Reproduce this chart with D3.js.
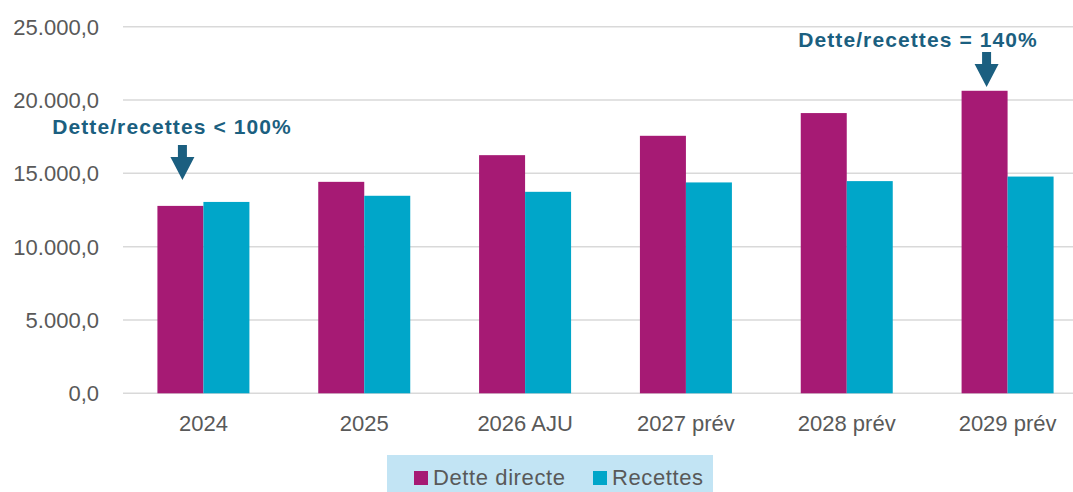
<!DOCTYPE html>
<html lang="fr">
<head>
  <meta charset="UTF-8">
  <style>
    body {
      margin: 0;
      overflow: hidden;
      background: #fff;
    }

    svg {
      display: block;
      font-family: "Liberation Sans", Arial, sans-serif;
    }

    .grid line {
      stroke: #d9d9d9;
      stroke-width: 1.5;
    }

    .tick-label {
      fill: #595959;
      font-size: 22px;
    }

    .legend-label {
      fill: #595959;
      font-size: 22px;
      letter-spacing: 0.6px;
    }

    .note {
      fill: #1b5f80;
      font-size: 21px;
      font-weight: bold;
      letter-spacing: 1.1px;
    }
  </style>
  <script src="https://d3js.org/d3.v7.min.js"></script>
</head>
<body>

<svg id="chart"></svg>

<script>
  // data
  const categories = ["2024", "2025", "2026 AJU", "2027 prév", "2028 prév", "2029 prév"];
  const series = ["Dette directe", "Recettes"];
  const detteDirecte = [12780, 14420, 16240, 17560, 19110, 20630];
  const recettes = [13050, 13470, 13740, 14380, 14470, 14780];
  const yTicks = [0, 5000, 10000, 15000, 20000, 25000];
  const colors = ["#a61a74", "#00a6c9"];

  const width = 1073, height = 492;
  const svg = d3.select("#chart")
    .attr("width", width)
    .attr("height", height);

  const x0 = d3.scaleBand()
    .domain(categories)
    .range([123, 1088])
    .paddingInner(0.428)
    .paddingOuter(0.214);

  const x1 = d3.scaleBand()
    .domain(series)
    .range([0, x0.bandwidth()]);

  const y = d3.scaleLinear()
    .domain([0, 25000])
    .range([393.3, 26.7]);

  const fmt = v => d3.format(",.1f")(v).replace(/,/g, " ").replace(".", ",").replace(/ /g, ".");

  // gridlines
  svg.append("g")
    .attr("class", "grid")
    .selectAll("line")
    .data(yTicks)
    .join("line")
    .attr("x1", 123)
    .attr("x2", width)
    .attr("y1", d => y(d))
    .attr("y2", d => y(d));

  // y labels
  svg.append("g")
    .selectAll("text")
    .data(yTicks)
    .join("text")
    .attr("class", "tick-label")
    .attr("x", 99)
    .attr("y", d => y(d))
    .attr("dy", "0.36em")
    .attr("text-anchor", "end")
    .text(fmt);

  // bars
  const rows = categories.map((c, i) => ({ cat: c, values: [detteDirecte[i], recettes[i]] }));

  svg.append("g")
    .selectAll("g")
    .data(rows)
    .join("g")
    .attr("transform", d => `translate(${x0(d.cat)},0)`)
    .selectAll("rect")
    .data(d => d.values.map((v, j) => ({ key: series[j], v, j })))
    .join("rect")
    .attr("x", d => x1(d.key))
    .attr("y", d => y(d.v))
    .attr("width", x1.bandwidth())
    .attr("height", d => y(0) - y(d.v))
    .attr("fill", d => colors[d.j]);

  // x labels
  svg.append("g")
    .selectAll("text")
    .data(categories)
    .join("text")
    .attr("class", "tick-label")
    .attr("x", d => x0(d) + x0.bandwidth() / 2)
    .attr("y", 431)
    .attr("text-anchor", "middle")
    .text(d => d);

  // annotations with down arrows
  const notes = [
    { cat: "2024", text: "Dette/recettes < 100%", tx: 172, ty: 134, top: 145, tip: 180 },
    { cat: "2029 prév", text: "Dette/recettes = 140%", tx: 918, ty: 47, top: 52, tip: 87 }
  ];

  notes.forEach(n => {
    svg.append("text")
      .attr("class", "note")
      .attr("x", n.tx)
      .attr("y", n.ty)
      .attr("text-anchor", "middle")
      .text(n.text);

    const cx = x0(n.cat) + x1("Dette directe") + x1.bandwidth() / 2 + 2;
    const headY = n.tip - 23;
    svg.append("path")
      .attr("fill", "#1b5f80")
      .attr("d", `M${cx - 4.5},${n.top} L${cx + 4.5},${n.top} L${cx + 4.5},${headY}
        L${cx + 12},${headY} L${cx},${n.tip} L${cx - 12},${headY} L${cx - 4.5},${headY} Z`);
  });

  // legend
  const legend = svg.append("g");
  legend.append("rect")
    .attr("x", 387)
    .attr("y", 455)
    .attr("width", 326)
    .attr("height", 37)
    .attr("fill", "#c2e4f4");

  const legendX = [414, 593];
  series.forEach((s, i) => {
    legend.append("rect")
      .attr("x", legendX[i])
      .attr("y", 471)
      .attr("width", 14)
      .attr("height", 14)
      .attr("fill", colors[i]);
    legend.append("text")
      .attr("class", "legend-label")
      .attr("x", legendX[i] + 19)
      .attr("y", 485)
      .text(s);
  });
</script>

</body>
</html>
